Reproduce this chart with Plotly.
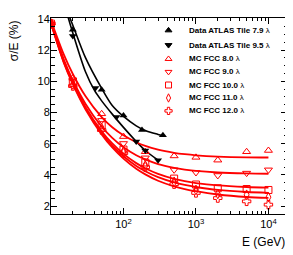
import plotly.graph_objects as go

# ---------------- data ----------------
# ATLAS Tile test-beam data
E_atlas_79 = [20, 50, 100, 180, 350]
res_atlas_79 = [13.3, 9.47, 7.82, 6.88, 6.55]
E_atlas_95 = [20, 41, 80, 150, 200, 300]
res_atlas_95 = [12.9, 9.58, 7.71, 6.15, 5.57, 4.95]

# fitted curves for data
E_fit_79 = [17, 20, 30, 50, 70, 100, 150, 200, 300, 350]
fit_79 = [14.4, 13.6, 11.5, 9.55, 8.45, 7.75, 7.15, 6.85, 6.6, 6.52]
E_fit_95 = [17, 20, 30, 40, 50, 70, 100, 150, 200, 300]
fit_95 = [14.2, 13.1, 10.6, 9.4, 8.75, 7.9, 7.05, 6.15, 5.57, 4.95]

# MC FCC points
E_mc = [10, 20, 50, 100, 200, 500, 1000, 2000, 5000, 10000]
mc_80 = [13.75, 10.2, 7.92, 6.46, 5.49, 5.22, 5.13, 4.95, 5.49, 5.57]
mc_90 = [13.7, 10.1, 7.5, 6.02, 5.1, 4.33, 4.16, 3.97, 4.12, 4.33]
mc_100 = [13.7, 9.9, 7.19, 5.63, 4.8, 3.77, 3.39, 3.15, 3.10, 3.04]
mc_110 = [13.7, 9.8, 7.0, 5.5, 4.6, 3.56, 3.04, 2.79, 2.73, 2.58]
mc_120 = [13.7, 9.7, 6.88, 5.4, 4.5, 3.41, 2.85, 2.52, 2.31, 2.10]

# MC fitted curves
E_fit_mc = [10, 15, 20, 30, 50, 70, 100, 150, 200, 300, 500, 700, 1000, 2000, 5000, 10000]
fit_80 = [13.90, 11.73, 10.47, 9.04, 7.71, 7.06, 6.54, 6.10, 5.86, 5.62, 5.42, 5.33, 5.26, 5.18, 5.13, 5.12]
fit_90 = [13.80, 11.42, 10.07, 8.55, 7.10, 6.38, 5.78, 5.27, 5.00, 4.70, 4.46, 4.35, 4.26, 4.16, 4.10, 4.08]
fit_100 = [13.76, 11.30, 9.95, 8.35, 6.80, 6.02, 5.35, 4.76, 4.43, 4.07, 3.75, 3.60, 3.48, 3.33, 3.23, 3.19]
fit_110 = [13.73, 11.25, 9.88, 8.27, 6.70, 5.88, 5.20, 4.58, 4.24, 3.86, 3.52, 3.36, 3.23, 3.04, 2.91, 2.86]
fit_120 = [13.70, 11.20, 9.82, 8.20, 6.60, 5.76, 5.05, 4.40, 4.04, 3.63, 3.27, 3.10, 2.96, 2.75, 2.59, 2.53]

legend_labels = [
    "<b>Data ATLAS Tile 7.9</b> λ",
    "<b>Data ATLAS Tile 9.5</b> λ",
    "<b>MC FCC 8.0</b> λ",
    "<b>MC FCC 9.0</b> λ",
    "<b>MC FCC 10.0</b> λ",
    "<b>MC FCC 11.0</b> λ",
    "<b>MC FCC 12.0</b> λ",
]

x_ticks = [100, 1000, 10000]
x_tick_labels = ["10<sup>2</sup>", "10<sup>3</sup>", "10<sup>4</sup>"]
y_ticks = [2, 4, 6, 8, 10, 12, 14]

# ---------------- styles ----------------
RED = "#ff0000"
BLACK = "#000000"
FONT = "Liberation Sans, Arial, sans-serif"
mc_series = [
    (mc_80, fit_80, "triangle-up-open"),
    (mc_90, fit_90, "triangle-down-open"),
    (mc_100, fit_100, "square-open"),
    (mc_110, fit_110, "diamond-tall-open"),
    (mc_120, fit_120, "cross-open"),
]

fig = go.Figure()

# data fits
for ex, fy in [(E_fit_79, fit_79), (E_fit_95, fit_95)]:
    fig.add_trace(go.Scatter(x=ex, y=fy, mode="lines",
                             line=dict(color=BLACK, width=1.6, shape="spline", smoothing=0.8),
                             showlegend=False, hoverinfo="skip"))
# MC fits
for pts, fy, sym in mc_series:
    fig.add_trace(go.Scatter(x=E_fit_mc, y=fy, mode="lines",
                             line=dict(color=RED, width=1.8, shape="spline", smoothing=0.8),
                             showlegend=False, hoverinfo="skip"))
# MC points
for pts, fy, sym in mc_series:
    fig.add_trace(go.Scatter(x=E_mc, y=pts, mode="markers",
                             marker=dict(symbol=sym, size=7, color=RED, line=dict(color=RED, width=1)),
                             showlegend=False))
# data points
fig.add_trace(go.Scatter(x=E_atlas_79, y=res_atlas_79, mode="markers",
                         marker=dict(symbol="triangle-up", size=7, color=BLACK),
                         showlegend=False))
fig.add_trace(go.Scatter(x=E_atlas_95, y=res_atlas_95, mode="markers",
                         marker=dict(symbol="triangle-down", size=7, color=BLACK),
                         showlegend=False))

# ---------------- manual legend (overlay axes in plot-area fractions) ----------------
leg_x_marker = 0.498
leg_x_text = 0.578
leg_rows = [0.937, 0.862, 0.791, 0.725, 0.658, 0.592, 0.526]
leg_symbols = ["triangle-up", "triangle-down", "triangle-up-open", "triangle-down-open",
               "square-open", "diamond-tall-open", "cross-open"]
leg_colors = [BLACK, BLACK, RED, RED, RED, RED, RED]
fig.add_trace(go.Scatter(x=[leg_x_marker] * len(leg_rows), y=leg_rows, mode="markers",
                         xaxis="x2", yaxis="y2",
                         marker=dict(symbol=leg_symbols, size=6, color=leg_colors,
                                     line=dict(color=leg_colors, width=1)),
                         showlegend=False, hoverinfo="skip"))
for lab, yy in zip(legend_labels, leg_rows):
    fig.add_annotation(text=lab, xref="paper", yref="paper", x=leg_x_text, y=yy,
                       xanchor="left", yanchor="middle", showarrow=False,
                       font=dict(family=FONT, size=8, color=BLACK))

# axis titles
fig.add_annotation(text="σ/E (%)", xref="paper", yref="paper", x=-0.158, y=1.0,
                   xanchor="center", yanchor="top", textangle=-90, showarrow=False,
                   font=dict(family=FONT, size=12, color=BLACK))
fig.add_annotation(text="E (GeV)", xref="paper", yref="paper", x=1.0, y=-0.144,
                   xanchor="right", yanchor="middle", showarrow=False,
                   font=dict(family=FONT, size=12, color=BLACK))

axis_common = dict(showline=True, linecolor=BLACK, linewidth=1, mirror="ticks",
                   ticks="inside", tickcolor=BLACK, showgrid=False, zeroline=False,
                   ticklabeloverflow="allow",
                   tickfont=dict(family=FONT, size=11, color=BLACK))

# the page body adds an 8px offset; margins compensate so the frame lands at (51..288, 13..214)
fig.update_layout(
    width=285, height=247,
    margin=dict(l=43, r=5, t=5, b=41),
    paper_bgcolor="white", plot_bgcolor="white",
    showlegend=False,
    xaxis=dict(type="log", range=[1.0, 4.256], tickvals=x_ticks, ticktext=x_tick_labels,
               ticklen=6, minor=dict(ticks="inside", ticklen=3, tickcolor=BLACK, dtick="D1", showgrid=False),
               **axis_common),
    yaxis=dict(range=[1.5, 14.06], tickvals=y_ticks, ticklen=6, ticklabelstandoff=-2,
               minor=dict(ticks="inside", ticklen=3.5, tickcolor=BLACK, dtick=0.5, tick0=0, showgrid=False),
               **axis_common),
    xaxis2=dict(overlaying="x", range=[0, 1], visible=False),
    yaxis2=dict(overlaying="y", range=[0, 1], visible=False),
)

fig.write_html("out.html")
